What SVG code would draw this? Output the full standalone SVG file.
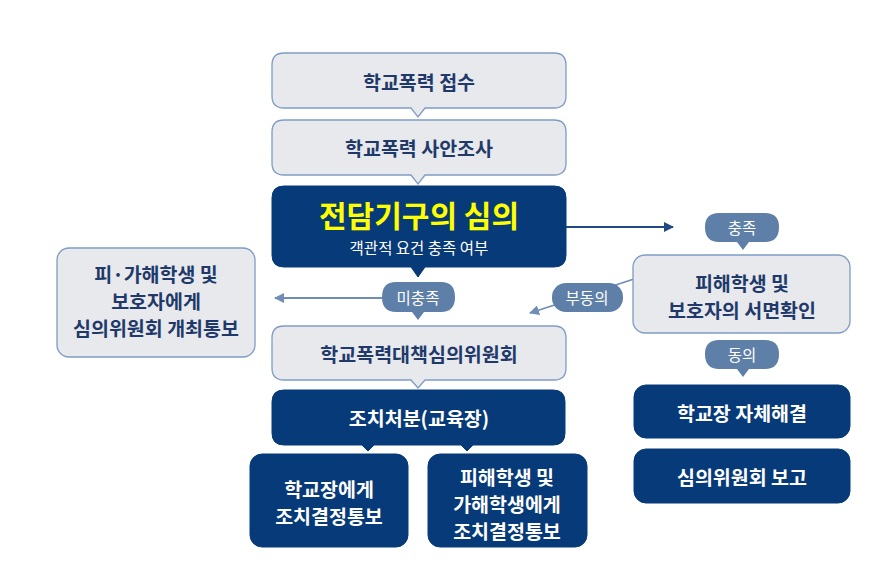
<svg xmlns="http://www.w3.org/2000/svg" width="896" height="586" viewBox="0 0 896 586">
<defs>
<style>
.light{fill:#e8e9ec;stroke:#7f9cc4;stroke-width:1.3}
.dark{fill:#073a78;stroke:#073a78;stroke-width:1}
.bub{fill:#5e7fa8}
.t{font-family:"Noto Sans CJK KR","Noto Sans",sans-serif;text-anchor:middle;dominant-baseline:central}
.tl{fill:#1f3a6a;font-weight:bold;font-size:19.5px}
.tw{fill:#ffffff;font-weight:bold;font-size:19.5px}
.tb{fill:#ffffff;font-size:15.5px}
</style>
<marker id="ahN" viewBox="0 0 10 10" refX="9" refY="5" markerWidth="10" markerHeight="10" markerUnits="userSpaceOnUse" orient="auto"><path d="M0,0 L10,5 L0,10 Z" fill="#1f4a85"/></marker>
<marker id="ahG" viewBox="0 0 10 10" refX="9" refY="5" markerWidth="10" markerHeight="10" markerUnits="userSpaceOnUse" orient="auto"><path d="M0,0 L10,5 L0,10 Z" fill="#6f8db5"/></marker>
</defs>
<rect width="896" height="586" fill="#ffffff"/>

<g id="connectors">
<line x1="566" y1="227" x2="673" y2="227" stroke="#1f4a85" stroke-width="1.8" marker-end="url(#ahN)"/>
<line x1="382" y1="298" x2="275" y2="298" stroke="#6f8db5" stroke-width="1.8" marker-end="url(#ahG)"/>
<line x1="634" y1="279" x2="530" y2="313" stroke="#6f8db5" stroke-width="1.8" marker-end="url(#ahG)"/>
</g>

<g id="n1">
<path class="light" d="M284,53 H554 Q566,53 566,65 V96 Q566,108 554,108 H425 L418,117 L411,108 H284 Q272,108 272,96 V65 Q272,53 284,53 Z"/>
<text class="t tl" x="419" y="81">학교폭력 접수</text>
</g>
<g id="n2">
<path class="light" d="M284,120 H554 Q566,120 566,132 V163 Q566,175 554,175 H425 L418,184 L411,175 H284 Q272,175 272,163 V132 Q272,120 284,120 Z"/>
<text class="t tl" x="419" y="147">학교폭력 사안조사</text>
</g>
<g id="n3">
<path class="dark" d="M284,186 H554 Q566,186 566,198 V255 Q566,267 554,267 H425 L418,277 L411,267 H284 Q272,267 272,255 V198 Q272,186 284,186 Z"/>
<text class="t" x="419" y="214" fill="#ffff00" font-weight="bold" font-size="30">전담기구의 심의</text>
<text class="t tb" x="419" y="247">객관적 요건 충족 여부</text>
</g>
<g id="n4">
<rect class="light" x="57" y="248" width="198" height="109" rx="12"/>
<text class="t tl" x="156" y="273" font-size="18.5">피·가해학생 및</text>
<text class="t tl" x="156" y="300" font-size="18.5">보호자에게</text>
<text class="t tl" x="156" y="327" font-size="18.5">심의위원회 개최통보</text>
</g>
<g id="b1">
<path class="bub" d="M396,282 H441 Q455,282 455,297 Q455,312 441,312 H424 L418,320 L412,312 H396 Q382,312 382,297 Q382,282 396,282 Z"/>
<text class="t tb" x="418" y="297">미충족</text>
</g>
<g id="b2">
<rect class="bub" x="552" y="283" width="71" height="29" rx="14"/>
<text class="t tb" x="587" y="297">부동의</text>
</g>
<g id="b3">
<path class="bub" d="M719,213 H765 Q779,213 779,227 Q779,242 765,242 H749 L743,250 L737,242 H719 Q705,242 705,227 Q705,213 719,213 Z"/>
<text class="t tb" x="742" y="227">충족</text>
</g>
<g id="n5">
<rect class="light" x="633" y="255" width="217" height="78" rx="12"/>
<text class="t tl" x="742" y="282">피해학생 및</text>
<text class="t tl" x="742" y="309">보호자의 서면확인</text>
</g>
<g id="b4">
<path class="bub" d="M719,340 H765 Q779,340 779,354 Q779,369 765,369 H749 L743,377 L737,369 H719 Q705,369 705,354 Q705,340 719,340 Z"/>
<text class="t tb" x="742" y="354">동의</text>
</g>
<g id="n6">
<path class="light" d="M284,326 H554 Q566,326 566,338 V368 Q566,380 554,380 H425 L418,388 L411,380 H284 Q272,380 272,368 V338 Q272,326 284,326 Z"/>
<text class="t tl" x="419" y="353">학교폭력대책심의위원회</text>
</g>
<g id="n7">
<path class="dark" d="M284,390 H553 Q565,390 565,402 V433 Q565,445 553,445 H473 L467,451 L461,445 H374 L368,451 L362,445 H284 Q272,445 272,433 V402 Q272,390 284,390 Z"/>
<text class="t tw" x="419" y="417">조치처분(교육장)</text>
</g>
<g id="n8">
<rect class="dark" x="634" y="385" width="216" height="53" rx="12"/>
<text class="t tw" x="742" y="412">학교장 자체해결</text>
</g>
<g id="n9">
<rect class="dark" x="634" y="449" width="216" height="54" rx="12"/>
<text class="t tw" x="742" y="476">심의위원회 보고</text>
</g>
<g id="n10">
<rect class="dark" x="250" y="454" width="158" height="93" rx="12"/>
<text class="t tw" x="329" y="488">학교장에게</text>
<text class="t tw" x="329" y="515">조치결정통보</text>
</g>
<g id="n11">
<rect class="dark" x="428" y="454" width="159" height="93" rx="12"/>
<text class="t tw" x="507" y="476">피해학생 및</text>
<text class="t tw" x="507" y="503">가해학생에게</text>
<text class="t tw" x="507" y="530">조치결정통보</text>
</g>
</svg>
